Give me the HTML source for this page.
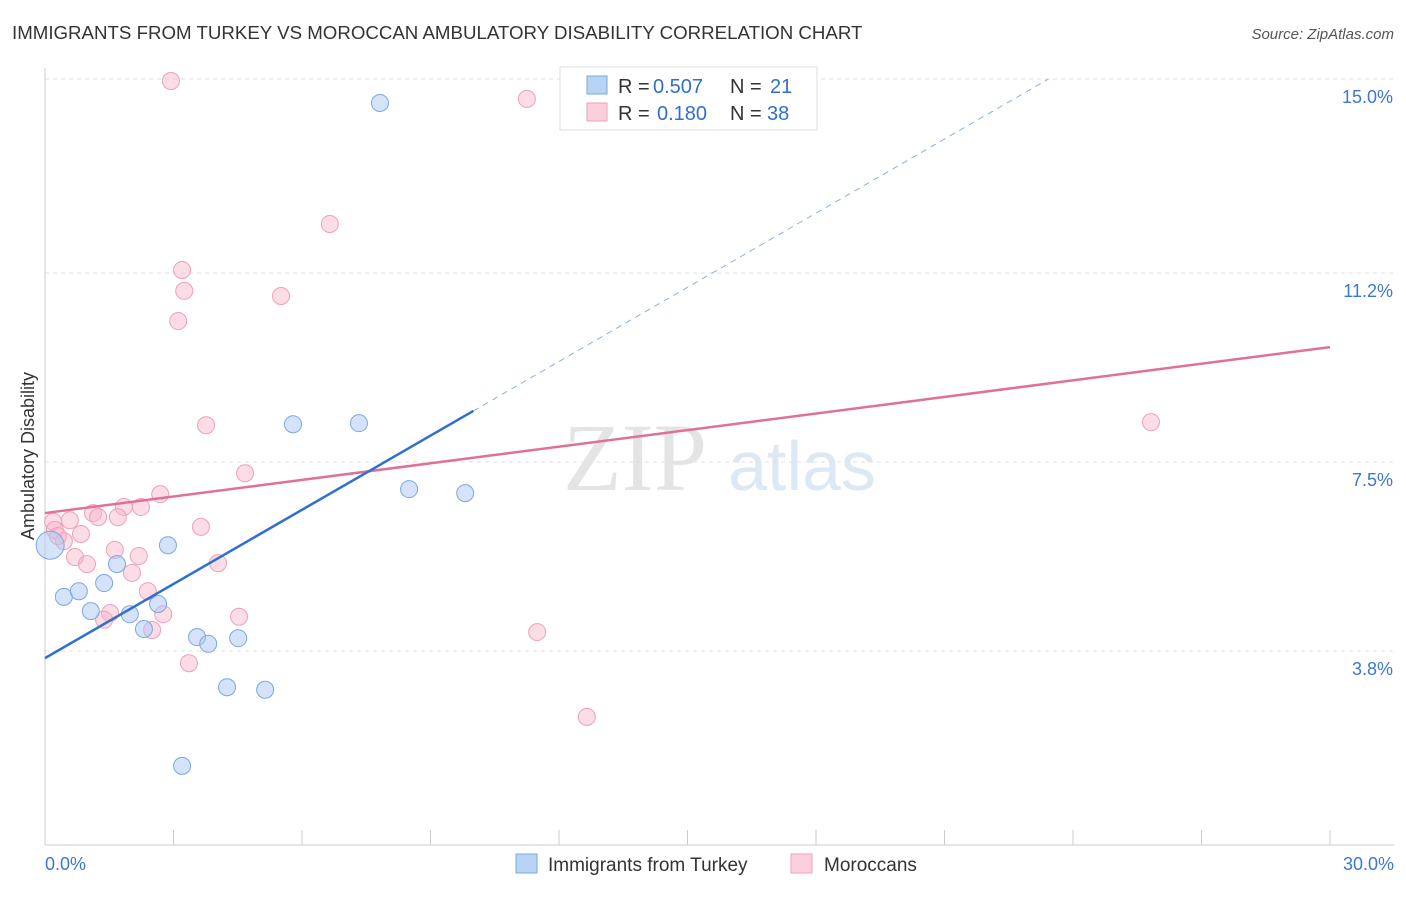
<!DOCTYPE html>
<html><head><meta charset="utf-8"><style>
body{margin:0;background:#fff;font-family:"Liberation Sans",sans-serif;}
</style></head><body>
<svg id="chart" width="1406" height="892" xmlns="http://www.w3.org/2000/svg" font-family="Liberation Sans, sans-serif">
<text x="12" y="39" font-size="18.7" fill="#333">IMMIGRANTS FROM TURKEY VS MOROCCAN AMBULATORY DISABILITY CORRELATION CHART</text>
<text x="1394" y="39" font-size="15" fill="#555" text-anchor="end" font-style="italic">Source: ZipAtlas.com</text>
<g>
<text x="635" y="490" font-size="96" fill="#e4e4e4" font-family="Liberation Serif, serif" text-anchor="middle">ZIP</text>
<text x="802" y="490" font-size="70" fill="#dde8f5" text-anchor="middle">atlas</text>
</g>
<g id="grid"></g>
<g id="axes"></g>
<g id="marks"></g>
<text transform="translate(34,456) rotate(-90)" font-size="18" fill="#333" text-anchor="middle">Ambulatory Disability</text>
<g font-size="20">
<rect x="560" y="67" width="257" height="63" fill="#fff" stroke="#ddd"/>
<rect x="587" y="76" width="20" height="18" fill="#b8d4f5" stroke="#7aa8e0"/>
<rect x="587" y="103" width="20" height="18" fill="#fbd0dc" stroke="#eea0b8"/>
<text x="618" y="93" fill="#333">R =</text>
<text x="653" y="93" fill="#2f6fd0">0.507</text>
<text x="730" y="93" fill="#333">N =</text>
<text x="770" y="93" fill="#2f6fd0">21</text>
<text x="618" y="120" fill="#333">R =</text>
<text x="657" y="120" fill="#2f6fd0">0.180</text>
<text x="730" y="120" fill="#333">N =</text>
<text x="767" y="120" fill="#2f6fd0">38</text>
</g>
<g>
<rect x="516" y="854" width="21" height="19" fill="#b8d4f5" stroke="#7aa8e0"/>
<text x="548" y="871" font-size="19" fill="#333">Immigrants from Turkey</text>
<rect x="791" y="854" width="21" height="19" fill="#fbd0dc" stroke="#eea0b8"/>
<text x="824" y="871" font-size="19" fill="#333">Moroccans</text>
</g>
</svg>
<script>
const yTicks=[3.8,7.5,11.2,15.0];
const yTickLabels=["3.8%","7.5%","11.2%","15.0%"];
const xTickCount=10;
const xMin=0,xMax=30;
const turkeyX=[0.12,0.44,0.79,1.07,1.38,1.68,1.98,2.31,2.64,2.87,3.20,3.55,3.81,4.25,4.51,5.14,5.79,7.33,7.82,8.50,9.81];
const turkeyY=[5.87,4.86,4.97,4.58,5.13,5.50,4.52,4.23,4.72,5.87,1.55,4.07,3.94,3.09,4.05,3.04,8.24,8.26,14.53,6.97,6.89];
const morX=[2.94,11.25,6.65,3.20,3.25,5.51,3.11,3.76,25.82,4.67,2.69,1.84,2.24,1.12,1.24,1.70,0.58,0.19,0.23,0.84,0.44,3.64,1.63,2.19,0.70,0.98,4.04,2.03,2.40,1.52,1.38,2.76,2.50,4.53,11.49,3.36,12.65,0.30];
const morY=[14.96,14.61,12.16,11.26,10.85,10.75,10.26,8.22,8.28,7.28,6.87,6.62,6.62,6.50,6.42,6.42,6.36,6.33,6.17,6.09,5.95,6.23,5.78,5.66,5.64,5.50,5.52,5.33,4.97,4.54,4.41,4.52,4.21,4.47,4.17,3.56,2.51,6.05];
const turkeyTrend=[3.66,0.484];
const morTrend=[6.50,0.1083];
const NS="http://www.w3.org/2000/svg";
const X=v=>45+(v-xMin)/(xMax-xMin)*1285;
const Y=v=>462+(7.5-v)*51.07;
function mk(t,a,p){const e=document.createElementNS(NS,t);for(const k in a)e.setAttribute(k,a[k]);p.appendChild(e);return e;}
const grid=document.getElementById('grid'),axes=document.getElementById('axes'),marks=document.getElementById('marks');
yTicks.forEach((v,i)=>{
 const l=mk('line',{x1:45,x2:1394,y1:Y(v),y2:Y(v),stroke:'#e2e2e2','stroke-dasharray':'4,4'},grid);
 
 
 const t=mk('text',{x:1393,y:Y(v)+24,'font-size':18,fill:'#3b78d0','text-anchor':'end'},axes);t.textContent=yTickLabels[i];
 
 
});
const ax=mk('line',{x1:45,x2:45,y1:68,y2:845,stroke:'#ccc'},axes);


const bx=mk('line',{x1:45,x2:1394,y1:845,y2:845,stroke:'#ccc'},axes);


for(let i=0;i<=xTickCount;i++){
 const v=xMin+i*(xMax-xMin)/xTickCount;
 const t=mk('line',{x1:X(v),x2:X(v),y1:830,y2:845,stroke:'#ccc'},axes);
 
 
}
[[xMin,'0.0%',45,'start'],[xMax,'30.0%',1394,'end']].forEach(d=>{
 const t=mk('text',{x:d[2],y:870,'font-size':18,fill:'#3b78d0','text-anchor':d[3]},axes);t.textContent=d[1];
 
 
});
morX.forEach((x,i)=>{
 const c=mk('circle',{cx:X(x),cy:Y(morY[i]),r:8.5,fill:'rgba(248,180,200,0.45)',stroke:'#eea0b8','stroke-width':1},marks);
 
 
});
turkeyX.forEach((x,i)=>{
 const c=mk('circle',{cx:X(x),cy:Y(turkeyY[i]),r:i==0?14:8.5,fill:'rgba(170,200,245,0.5)',stroke:'#7aa8e0','stroke-width':1},marks);
 
 
});
const pl=mk('line',{x1:X(0),y1:Y(morTrend[0]),x2:X(30),y2:Y(morTrend[0]+morTrend[1]*30),stroke:'#e0709a','stroke-width':2.5},marks);


const xe=(15-turkeyTrend[0])/turkeyTrend[1];
const bd=mk('line',{x1:X(10),y1:Y(turkeyTrend[0]+turkeyTrend[1]*10),x2:X(xe),y2:Y(15),stroke:'#8ab0e0','stroke-width':1,'stroke-dasharray':'6,5'},marks);


const bl=mk('line',{x1:X(0),y1:Y(turkeyTrend[0]),x2:X(10),y2:Y(turkeyTrend[0]+turkeyTrend[1]*10),stroke:'#2f6fd0','stroke-width':2.5},marks);


</script>
</body></html>
